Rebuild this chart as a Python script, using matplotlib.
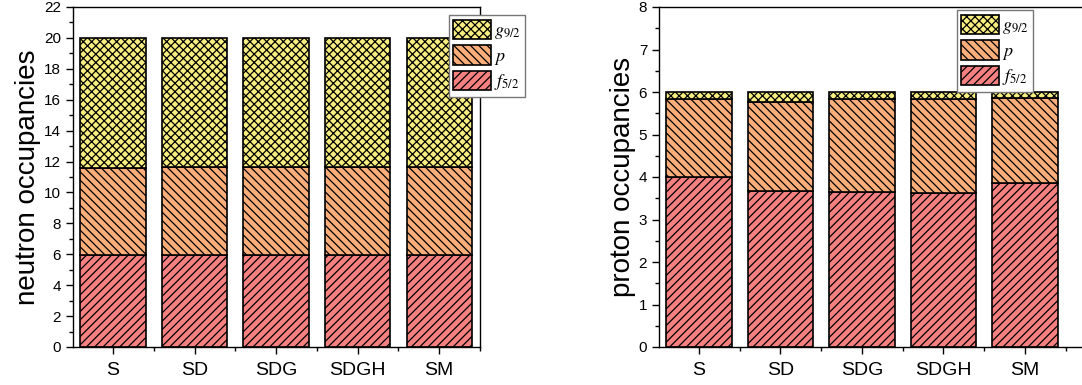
import matplotlib
matplotlib.use('Agg')
import matplotlib.pyplot as plt
import numpy as np
from matplotlib.ticker import MultipleLocator
from matplotlib.patches import Patch

plt.rcParams['font.family'] = ['Liberation Sans', 'DejaVu Sans']
plt.rcParams['mathtext.fontset'] = 'stix'
plt.rcParams['hatch.linewidth'] = 0.9

models = ['S', 'SD', 'SDG', 'SDGH', 'SM']

# neutron: f5/2 occupancy, cumulative top of p, total
neutron_f = [5.94, 5.94, 5.94, 5.94, 5.94]
neutron_p_top = [11.58, 11.64, 11.64, 11.66, 11.63]
neutron_total = [20, 20, 20, 20, 20]

# proton
proton_f = [4.01, 3.68, 3.64, 3.63, 3.86]
proton_p_top = [5.83, 5.76, 5.84, 5.84, 5.86]
proton_total = [6, 6, 6, 6, 6]

c_f = '#f58080'
c_p = '#fbae7a'
c_g = '#f8ee80'

h_f = '////'
h_p = '\\\\\\\\'
h_g = 'xxxx'

W, H = 1082, 385
fig = plt.figure(figsize=(W / 100, H / 100), dpi=100)

def px_axes(x0, y0, x1, y1):
	return fig.add_axes([x0 / W, 1 - y1 / H, (x1 - x0) / W, (y1 - y0) / H])

def draw(ax, f, ptop, total, ymax, major, minor, ylabel, xright):
	x = np.arange(len(models))
	f = np.array(f)
	ptop = np.array(ptop)
	total = np.array(total)
	ax.bar(x, f, width=0.8, color=c_f, edgecolor='black', linewidth=1.2, hatch=h_f)
	ax.bar(x, ptop - f, bottom=f, width=0.8, color=c_p, edgecolor='black', linewidth=1.2, hatch=h_p)
	ax.bar(x, total - ptop, bottom=ptop, width=0.8, color=c_g, edgecolor='black', linewidth=1.2, hatch=h_g)
	ax.set_xlim(-0.49, xright)
	ax.set_ylim(0, ymax)
	ax.set_xticks(x)
	ax.set_xticklabels(models)
	ax.xaxis.set_minor_locator(MultipleLocator(0.5))
	ax.yaxis.set_major_locator(MultipleLocator(major))
	ax.yaxis.set_minor_locator(MultipleLocator(minor))
	ax.tick_params(axis='both', which='major', direction='out', length=5, width=1, labelsize=11)
	ax.tick_params(axis='x', which='major', labelsize=14, pad=6)
	ax.tick_params(axis='both', which='minor', direction='out', length=3, width=1)
	ax.set_ylabel(ylabel, fontsize=20, labelpad=2)
	for s in ax.spines.values():
		s.set_linewidth(1.0)

def legend(x1, y0):
	handles = [Patch(facecolor=c_g, edgecolor='black', hatch=h_g, linewidth=1.2),
		Patch(facecolor=c_p, edgecolor='black', hatch=h_p, linewidth=1.2),
		Patch(facecolor=c_f, edgecolor='black', hatch=h_f, linewidth=1.2)]
	labels = ['$g_{9/2}$', '$p$', '$f_{5/2}$']
	leg = fig.legend(handles, labels, loc='upper right', bbox_to_anchor=(x1 / W, 1 - y0 / H),
		fontsize=13, fancybox=False, edgecolor='#777777', framealpha=1,
		handlelength=2.1, handleheight=1.3, handletextpad=0.15, labelspacing=0.2,
		borderpad=0.25, borderaxespad=0)
	return leg

ax1 = px_axes(73, 7, 480, 347)
draw(ax1, neutron_f, neutron_p_top, neutron_total, 22, 2, 1, 'neutron occupancies', 4.5)
ax2 = px_axes(659, 7, 1095, 347)
draw(ax2, proton_f, proton_p_top, proton_total, 8, 1, 0.5, 'proton occupancies', 4.86)
ax2.spines['right'].set_visible(False)

legend(525, 15)
legend(1033, 10)

fig.savefig('out.png', dpi=100)
